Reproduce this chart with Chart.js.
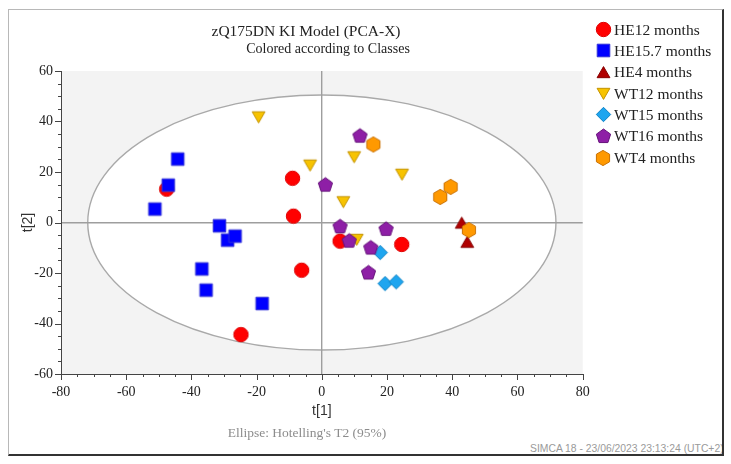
<!DOCTYPE html>
<html>
<head>
<meta charset="utf-8">
<script src="https://cdn.jsdelivr.net/npm/chart.js@4.4.1/dist/chart.umd.min.js"></script>
<style>
  html, body { margin: 0; padding: 0; background: #fff; }
  #wrap { position: relative; width: 731px; height: 464px; overflow: hidden; }
  #plot { position: absolute; left: 0; top: 0; }
  #frame { position: absolute; left: 8px; top: 9px; width: 713px; height: 444px;
    border-left: 1px solid #b8b8b8; border-top: 1px solid #b8b8b8;
    border-right: 2px solid #333; border-bottom: 2px solid #333; overflow: hidden; }
  .serif { font-family: "Liberation Serif", "DejaVu Serif", serif; color: #222; }
  #title { position: absolute; left: 0; width: 612px; top: 22px; text-align: center; font-size: 15.5px; line-height: 18px; }
  #subtitle { position: absolute; left: 0; width: 656px; top: 40px; text-align: center; font-size: 14px; line-height: 18px; }
  #ellipseNote { position: absolute; left: 0; width: 614px; top: 425px; text-align: center; font-size: 13.5px; line-height: 16px; color: #8c8c8c; }
  #simca { position: absolute; left: 521px; top: 432px; white-space: nowrap; font-family: "Liberation Sans", sans-serif;
    font-size: 11.5px; color: #9a9a9a; transform: scaleX(0.9); transform-origin: left center; }
  #legend { position: absolute; left: 0; top: 0; }
  .item { position: absolute; height: 20px; }
  .item canvas { position: absolute; }
  .item span { position: absolute; left: 614px; top: 0; font-size: 15.5px; line-height: 20px; white-space: nowrap; }
</style>
</head>
<body>
<div id="wrap">
  <div id="frame"><div id="simca">SIMCA 18 - 23/06/2023 23:13:24 (UTC+2)</div></div>
  <canvas id="plot" width="731" height="464"></canvas>
  <div id="title" class="serif">zQ175DN KI Model (PCA-X)</div>
  <div id="subtitle" class="serif">Colored according to Classes</div>
  <div id="ellipseNote" class="serif">Ellipse: Hotelling's T2 (95%)</div>
  <div id="legend" class="serif"></div>
</div>
<script>
// class names, in legend order
const classNames = ['HE12 months', 'HE15.7 months', 'HE4 months', 'WT12 months', 'WT15 months', 'WT16 months', 'WT4 months'];

// scores t[1] / t[2] per class
const he12T1 = [-47.6, -9.0, -8.7, -6.2, -24.8, 5.6, 24.5];
const he12T2 = [13.2, 17.5, 2.5, -18.9, -44.4, -7.4, -8.7];
const he157T1 = [-44.2, -47.1, -51.2, -31.4, -28.9, -26.6, -36.8, -35.5, -18.3];
const he157T2 = [25.1, 14.8, 5.3, -1.3, -7.0, -5.4, -18.4, -26.8, -32.1];
const he4T1 = [42.9, 44.6];
const he4T2 = [-0.2, -7.8];
const wt12T1 = [-19.4, -3.6, 9.9, 6.6, 24.6, 10.7];
const wt12T2 = [41.8, 22.7, 26.0, 8.2, 19.1, -6.7];
const wt15T1 = [17.9, 19.4, 22.8];
const wt15T2 = [-11.9, -24.2, -23.5];
const wt16T1 = [11.7, 1.1, 5.6, 8.4, 15.0, 19.7, 14.3];
const wt16T2 = [34.2, 14.8, -1.7, -7.4, -10.1, -2.7, -20.0];
const wt4T1 = [15.8, 39.5, 36.3, 45.1];
const wt4T2 = [30.9, 14.1, 10.1, -3.0];

// axis ranges and ticks
const t1Range = [-80, 80];
const t2Range = [-60, 60];
const labelStep = 20;
const minorStep = 5;

// Hotelling's T2 (95%) ellipse semi-axes in score units
const ellipseT1 = 71.8;
const ellipseT2 = 50.5;

// marker looks
const shapes = ['circle', 'square', 'triUp', 'triDown', 'diamond', 'pentagon', 'hexagon'];
const fills = ['#ff0000', '#0000ff', '#b00000', '#f7c300', '#1ea5ef', '#8e1fa6', '#ff9900'];
const strokes = ['#dd0000', '#3030d8', '#850000', '#c39200', '#0e82c4', '#66127a', '#c97000'];
const sizes = [7.2, 6.3, 7.4, 7.4, 7.2, 7.5, 7.6];

const t1s = [he12T1, he157T1, he4T1, wt12T1, wt15T1, wt16T1, wt4T1];
const t2s = [he12T2, he157T2, he4T2, wt12T2, wt15T2, wt16T2, wt4T2];

function makeMarker(shape, fill, stroke, r) {
  const s = Math.ceil(r * 2 + 4);
  const c = document.createElement('canvas');
  c.width = s; c.height = s;
  const g = c.getContext('2d');
  const m = s / 2;
  g.beginPath();
  if (shape === 'circle') {
    g.arc(m, m, r, 0, Math.PI * 2);
  } else if (shape === 'square') {
    g.rect(m - r, m - r, r * 2, r * 2);
  } else {
    const sides = { triUp: 3, triDown: 3, diamond: 4, pentagon: 5, hexagon: 6 }[shape];
    const start = shape === 'triDown' ? Math.PI / 2 : -Math.PI / 2;
    const cy = shape === 'triUp' ? m + r * 0.2 : shape === 'triDown' ? m - r * 0.2 : m;
    for (let i = 0; i < sides; i++) {
      const a = start + i * Math.PI * 2 / sides;
      const px = m + r * Math.cos(a), py = cy + r * Math.sin(a);
      if (i === 0) g.moveTo(px, py); else g.lineTo(px, py);
    }
    g.closePath();
  }
  g.fillStyle = fill;
  g.fill();
  g.lineWidth = 1;
  g.strokeStyle = stroke;
  g.stroke();
  return c;
}

const datasets = classNames.map((name, i) => ({
  label: name,
  data: t1s[i].map((v, k) => ({ x: v, y: t2s[i][k] })),
  pointStyle: makeMarker(shapes[i], fills[i], strokes[i], sizes[i]),
  pointRadius: 7,
  order: classNames.length - i // later classes drawn on top
}));

// grey plot background, white ellipse, and major/minor tick marks
const hotellingPlugin = {
  id: 'hotelling',
  beforeDraw(chart) {
    const { ctx, chartArea: a, scales: { x, y } } = chart;
    ctx.save();
    ctx.fillStyle = '#f3f3f3';
    ctx.fillRect(a.left, a.top, a.width, a.height);
    const cx = x.getPixelForValue(0), cy = y.getPixelForValue(0);
    const rx = x.getPixelForValue(ellipseT1) - cx;
    const ry = cy - y.getPixelForValue(ellipseT2);
    ctx.beginPath();
    ctx.ellipse(cx, cy, rx, ry, 0, 0, Math.PI * 2);
    ctx.fillStyle = '#ffffff';
    ctx.fill();
    ctx.lineWidth = 1.4;
    ctx.strokeStyle = '#a9a9a9';
    ctx.stroke();
    ctx.restore();
  },
  afterDraw(chart) {
    const { ctx, chartArea: a, scales: { x, y } } = chart;
    ctx.save();
    ctx.strokeStyle = '#444';
    ctx.lineWidth = 1;
    ctx.beginPath();
    x.ticks.forEach(t => {
      const px = Math.round(x.getPixelForValue(t.value)) + 0.5;
      const len = t.value % labelStep === 0 ? 6 : 3;
      ctx.moveTo(px, a.bottom);
      ctx.lineTo(px, a.bottom + len);
    });
    y.ticks.forEach(t => {
      const py = Math.round(y.getPixelForValue(t.value)) + 0.5;
      const len = t.value % labelStep === 0 ? 6 : 3;
      ctx.moveTo(a.left, py);
      ctx.lineTo(a.left - len, py);
    });
    ctx.stroke();
    ctx.restore();
  }
};

const tickFont = { family: '"Liberation Serif", "DejaVu Serif", serif', size: 14 };
const axisTitleFont = { family: '"Liberation Sans", sans-serif', size: 14 };

function axis(range, title, isX) {
  return {
    type: 'linear',
    min: range[0],
    max: range[1],
    afterFit(scale) {
      if (isX) scale.height = 46; else scale.width = 41;
    },
    ticks: {
      stepSize: minorStep,
      autoSkip: false,
      maxRotation: 0,
      padding: isX ? 10 : 8,
      color: '#222',
      font: tickFont,
      callback: v => (v % labelStep === 0 ? String(v) : '')
    },
    grid: {
      drawTicks: false,
      color: ctx => (ctx.tick && ctx.tick.value === 0 ? '#9e9e9e' : 'rgba(0,0,0,0)'),
      lineWidth: 1.4
    },
    border: { display: true, color: '#444', width: 1 },
    title: { display: true, text: title, color: '#333', font: axisTitleFont, padding: 0 }
  };
}

new Chart(document.getElementById('plot'), {
  type: 'scatter',
  data: { datasets: datasets },
  options: {
    responsive: false,
    animation: false,
    events: [],
    layout: { padding: { left: 20, right: 148.3, top: 71, bottom: 44 } },
    plugins: { legend: { display: false }, tooltip: { enabled: false } },
    scales: {
      x: axis(t1Range, 't[1]', true),
      y: axis(t2Range, 't[2]', false)
    }
  },
  plugins: [hotellingPlugin]
});

// legend on the right, built from the same markers
const legend = document.getElementById('legend');
classNames.forEach((name, i) => {
  const yc = 29.5 + i * 21.35;
  const item = document.createElement('div');
  item.className = 'item';
  item.style.top = (yc - 10) + 'px';
  const mk = makeMarker(shapes[i], fills[i], strokes[i], sizes[i]);
  mk.style.left = (603 - mk.width / 2) + 'px';
  mk.style.top = (10 - mk.height / 2) + 'px';
  const label = document.createElement('span');
  label.textContent = name;
  item.appendChild(mk);
  item.appendChild(label);
  legend.appendChild(item);
});
</script>
</body>
</html>
